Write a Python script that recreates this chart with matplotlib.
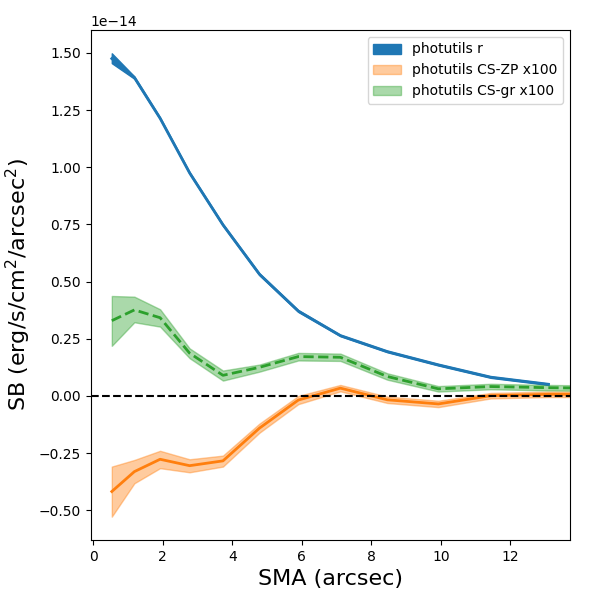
import matplotlib
matplotlib.use("Agg")
import matplotlib.pyplot as plt
import numpy as np

# SMA (arcsec)
sma = [0.53, 1.18, 1.92, 2.77, 3.73, 4.78, 5.90, 7.11, 8.46, 9.93, 11.44, 13.10, 14.90]

# photutils r (x1e-14)
r_val = [1.475, 1.392, 1.214, 0.975, 0.748, 0.532, 0.371, 0.264, 0.194, 0.136, 0.082, 0.051]
r_lo = [1.455, 1.387, 1.210, 0.971, 0.744, 0.528, 0.367, 0.261, 0.191, 0.133, 0.079, 0.048]
r_hi = [1.498, 1.397, 1.218, 0.979, 0.752, 0.536, 0.375, 0.267, 0.197, 0.139, 0.085, 0.054]

# photutils CS-ZP x100 (x1e-14)
zp_val = [-0.418, -0.331, -0.277, -0.305, -0.284, -0.141, -0.018, 0.034, -0.017, -0.035, 0.001, 0.007, 0.007]
zp_lo = [-0.528, -0.382, -0.316, -0.334, -0.309, -0.161, -0.036, 0.020, -0.031, -0.049, -0.011, -0.005, -0.005]
zp_hi = [-0.309, -0.280, -0.240, -0.277, -0.261, -0.121, 0.000, 0.048, -0.003, -0.021, 0.013, 0.019, 0.019]

# photutils CS-gr x100 (x1e-14)
gr_val = [0.329, 0.376, 0.342, 0.187, 0.090, 0.125, 0.172, 0.169, 0.085, 0.031, 0.041, 0.036, 0.033]
gr_lo = [0.219, 0.322, 0.303, 0.165, 0.067, 0.106, 0.155, 0.153, 0.071, 0.019, 0.029, 0.024, 0.021]
gr_hi = [0.437, 0.434, 0.379, 0.208, 0.111, 0.137, 0.188, 0.185, 0.099, 0.043, 0.053, 0.048, 0.045]

scale = 1e-14
x = np.array(sma)
nr = len(r_val)

fig = plt.figure(figsize=(6, 6), dpi=100)
ax = fig.add_axes([0.151, 0.10, 0.799, 0.85])

ax.fill_between(x[:nr], np.array(r_lo) * scale, np.array(r_hi) * scale,
                color='C0', alpha=1.0, label='photutils r')
ax.plot(x[:nr], np.array(r_val) * scale, color='C0', lw=2)

ax.fill_between(x, np.array(zp_lo) * scale, np.array(zp_hi) * scale,
                color='C1', alpha=0.4, label='photutils CS-ZP x100')
ax.plot(x, np.array(zp_val) * scale, color='C1', lw=2)

ax.fill_between(x, np.array(gr_lo) * scale, np.array(gr_hi) * scale,
                color='C2', alpha=0.4, label='photutils CS-gr x100')
ax.plot(x, np.array(gr_val) * scale, color='C2', lw=2, ls='--')

ax.axhline(0, color='k', ls='--', lw=1.5)

ax.set_xlim(-0.08, 13.72)
ax.set_ylim(-0.63e-14, 1.60e-14)
ax.set_xticks([0, 2, 4, 6, 8, 10, 12])
ax.set_yticks(np.array([-0.5, -0.25, 0, 0.25, 0.5, 0.75, 1.0, 1.25, 1.5]) * scale)

ax.set_xlabel('SMA (arcsec)', fontsize=16)
ax.set_ylabel(r'SB (erg/s/cm$^2$/arcsec$^2$)', fontsize=16)
ax.legend(loc='upper right')

fig.savefig('out.png', dpi=100)
